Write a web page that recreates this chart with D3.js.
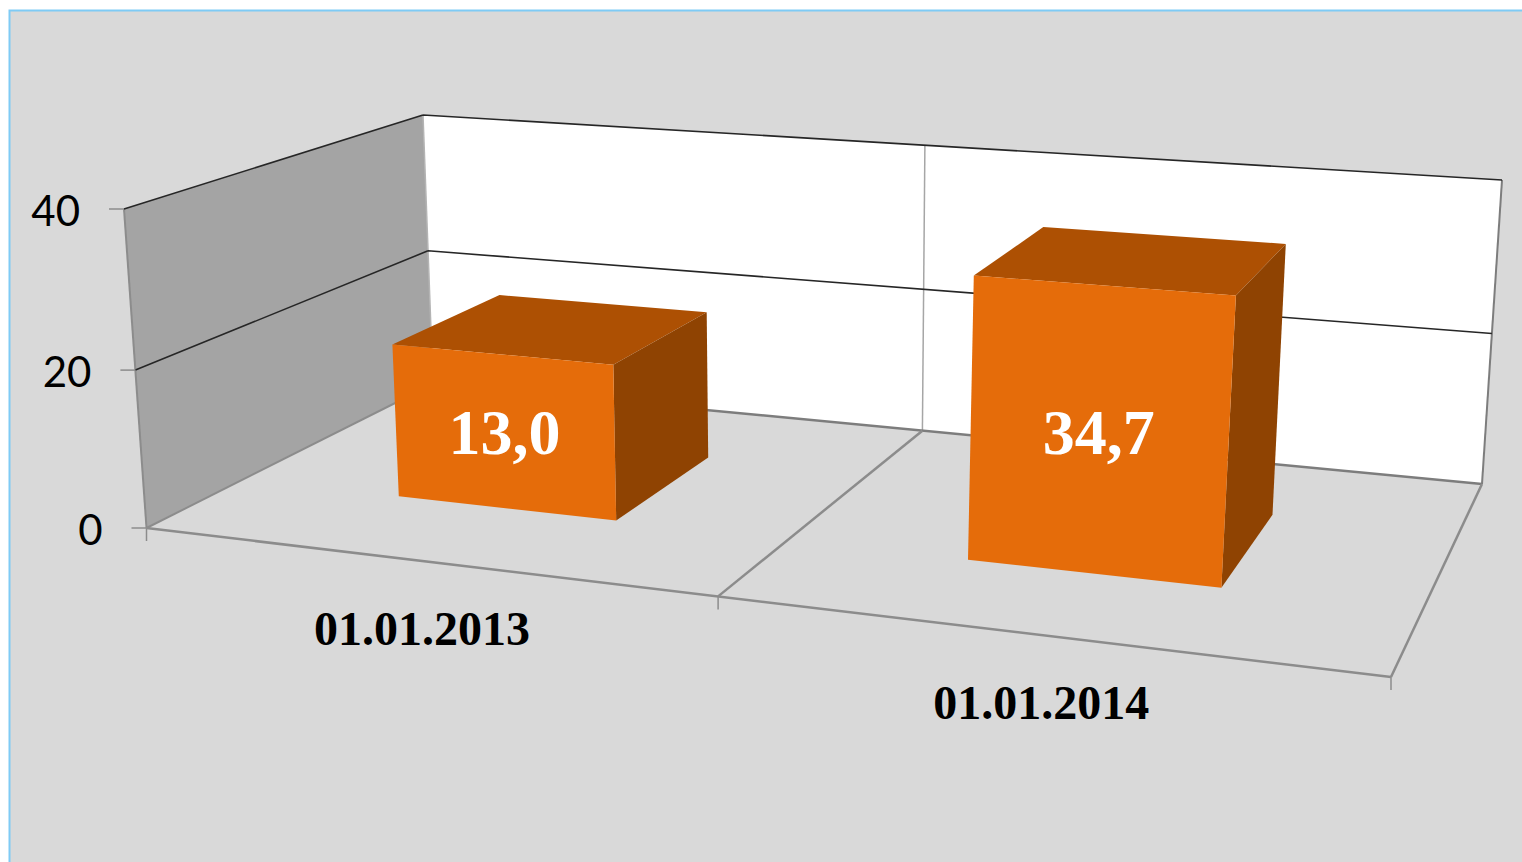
<!DOCTYPE html>
<html><head><meta charset="utf-8">
<script src="https://cdn.jsdelivr.net/npm/d3@7/dist/d3.min.js"></script>
<style>html,body{margin:0;padding:0;background:#fff;overflow:hidden}svg{display:block}</style>
</head><body><svg id="c" width="1522" height="862"></svg>
<script>
// Data
const categories = ["01.01.2013", "01.01.2014"];
const valueLabels = ["13,0", "34,7"];      // printed on the bars
const barHeights = [19.9, 34.5];           // heights as drawn, read against the axis
const axisTicks = [0, 20, 40];

// Scene geometry: corners of the floor (value 0) and roof (value 40) planes
const floorCorners = [[146.5,528],[1391,677],[1482,484],[433,384]];   // FL, FR, BR, BL
const roofCorners  = [[124,209],[1419,308],[1502,180],[423,115]];

function homography(p){
  const [[x0,y0],[x1,y1],[x2,y2],[x3,y3]] = p;
  const dx1=x1-x2,dx2=x3-x2,sx=x0-x1+x2-x3,dy1=y1-y2,dy2=y3-y2,sy=y0-y1+y2-y3;
  const det=dx1*dy2-dx2*dy1;
  const g=(sx*dy2-dx2*sy)/det,h=(dx1*sy-sx*dy1)/det;
  const a=x1-x0+g*x1,b=x3-x0+h*x3,d=y1-y0+g*y1,e=y3-y0+h*y3;
  return (u,v)=>{const w=g*u+h*v+1;return [(a*u+b*v+x0)/w,(d*u+e*v+y0)/w];};
}
const floorH = homography(floorCorners), roofH = homography(roofCorners);
const valueT = d3.scaleLinear().domain([0,20,40]).range([0,0.495,1]);
const xBand = d3.scaleBand().domain(categories).range([0,1]).paddingInner(0.6).paddingOuter(0.3);
const depth = d3.scaleLinear().domain([0,1]).range([0.3,0.7]);
const P = (u,v,val)=>{
  const a=floorH(u,v),b=roofH(u,v),t=valueT(val);
  return [a[0]+(b[0]-a[0])*t,a[1]+(b[1]-a[1])*t];
};
const poly = pts=>"M"+pts.map(p=>p.map(n=>n.toFixed(1)).join(",")).join("L")+"Z";
const line = (a,b)=>"M"+a.map(n=>n.toFixed(1)).join(",")+"L"+b.map(n=>n.toFixed(1)).join(",");

const svg = d3.select("#c");
svg.append("rect").attr("x",9.5).attr("y",10.5).attr("width",1540).attr("height",880)
  .attr("fill","#d9d9d9").attr("stroke","#7fcbf5").attr("stroke-width",2);

// Walls
svg.append("path").attr("d",poly([P(0,0,0),P(0,1,0),P(0,1,40),P(0,0,40)])).attr("fill","#a4a4a4");
svg.append("path").attr("d",poly([P(0,1,0),P(1,1,0),P(1,1,40),P(0,1,40)])).attr("fill","#ffffff");

const grey="#8c8c8c";
const stroke=(d,c,w)=>svg.append("path").attr("d",d).attr("fill","none").attr("stroke",c).attr("stroke-width",w);
// wall frame
stroke(line(P(0,0,0),P(0,0,40)),grey,2);
stroke(line(P(0,1,0),P(0,1,40)),"#b4b4b4",1.5);
stroke(line(P(1,1,0),P(1,1,40)),"#7d7d7d",2);
stroke(line(P(0.5,1,0),P(0.5,1,40)),"#a6a6a6",1.5);
// floor frame
stroke(line(P(0,0,0),P(1,0,0)),grey,2.5);
stroke(line(P(0,0,0),P(0,1,0)),grey,2);
stroke(line(P(0,1,0),P(1,1,0)),"#7d7d7d",2.5);
stroke(line(P(1,0,0),P(1,1,0)),grey,2.5);
stroke(line(P(0.5,0,0),P(0.5,1,0)),grey,2.5);
// gridlines
axisTicks.filter(t=>t>0).forEach(t=>{
  stroke(line(P(0,0,t),P(0,1,t))+line(P(0,1,t),P(1,1,t)),"#262626",1.6);
});
// tick marks
axisTicks.forEach(t=>{
  const p=P(0,0,t);
  stroke(line([p[0]-15,p[1]],p),grey,1.5);
  svg.append("text").attr("x",p[0]-44).attr("y",p[1]+6).attr("text-anchor","end")
    .attr("dominant-baseline","middle").attr("font-family","Lato, 'Open Sans', sans-serif")
    .attr("font-size",42).attr("fill","#000").text(t);
});
[0,0.5,1].forEach(u=>{const p=P(u,0,0);stroke(line(p,[p[0],p[1]+13]),grey,1.5);});

// Bars
categories.forEach((c,i)=>{
  const u0=xBand(c),u1=u0+xBand.bandwidth(),v0=depth(0),v1=depth(1),h=barHeights[i];
  svg.append("path").attr("d",poly([P(u0,v0,h),P(u1,v0,h),P(u1,v1,h),P(u0,v1,h)])).attr("fill","#ad5003");
  svg.append("path").attr("d",poly([P(u1,v0,0),P(u1,v1,0),P(u1,v1,h),P(u1,v0,h)])).attr("fill","#8f4302");
  svg.append("path").attr("d",poly([P(u0,v0,0),P(u1,v0,0),P(u1,v0,h),P(u0,v0,h)])).attr("fill","#e56c0a");
  const m=P((u0+u1)/2,v0,h/2);
  svg.append("text").attr("x",m[0]+1).attr("y",m[1]+23).attr("text-anchor","middle")
    .attr("font-family","'Liberation Serif', serif").attr("font-weight","bold").attr("font-size",64)
    .attr("fill","#fff").text(valueLabels[i]);
  const f=P((u0+u1)/2,0,0);
  svg.append("text").attr("x",f[0]+1).attr("y",f[1]+84).attr("text-anchor","middle")
    .attr("font-family","'Liberation Serif', serif").attr("font-weight","bold").attr("font-size",48)
    .attr("fill","#000").text(c);
});
</script></body></html>
